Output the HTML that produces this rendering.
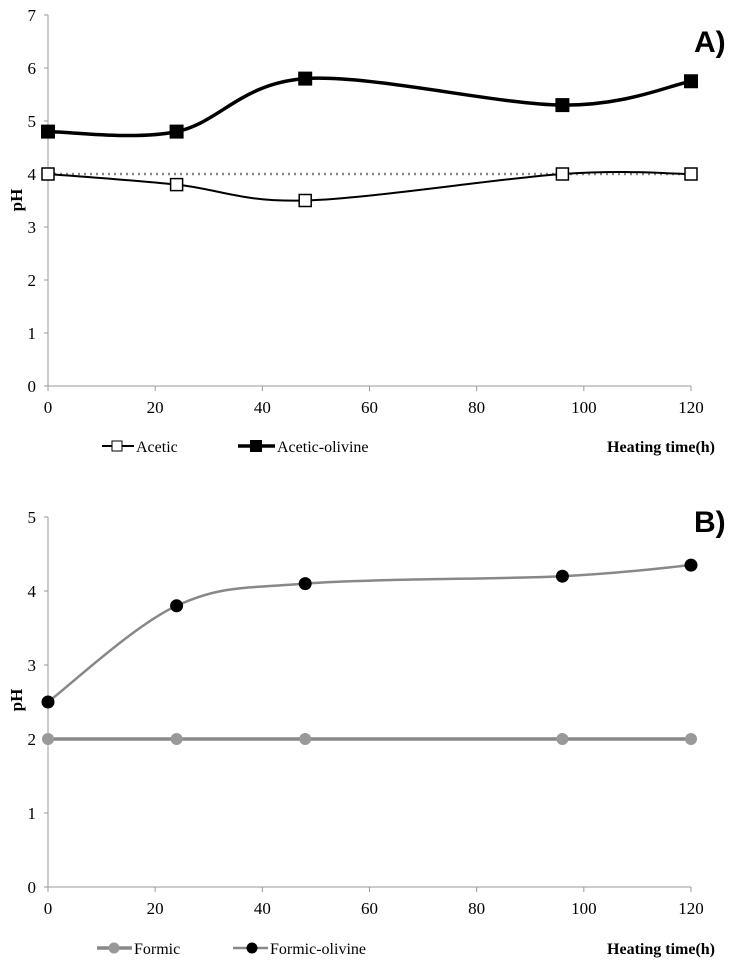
<!DOCTYPE html>
<html><head><meta charset="utf-8"><style>
body{margin:0;background:#fff}
svg text{font-family:"Liberation Serif",serif}
svg text.sans{font-family:"Liberation Sans",sans-serif}
</style></head><body>
<svg id="c" width="736" height="963" viewBox="0 0 736 963" xmlns="http://www.w3.org/2000/svg"></svg>
<script>
const hours=[0,24,48,96,120];
const aceticVals=[4,3.8,3.5,4,4];
const aceticOlivineVals=[4.8,4.8,5.8,5.3,5.75];
const aceticRef=[4,4];
const formicVals=[2,2,2,2,2];
const formicOlivineVals=[2.5,3.8,4.1,4.2,4.35];
const xTicks=[0,20,40,60,80,100,120];
const yTicksA=[0,1,2,3,4,5,6,7];
const yTicksB=[0,1,2,3,4,5];
const NS="http://www.w3.org/2000/svg";
const svg=document.getElementById('c');
function el(t,a,p){const e=document.createElementNS(NS,t);for(const k in a)e.setAttribute(k,a[k]);(p||svg).appendChild(e);return e;}
const X0=48,X1=691;
const sx=v=>X0+(X1-X0)*v/120;
function smooth(pts){let d=`M${pts[0][0]},${pts[0][1]}`;for(let i=0;i<pts.length-1;i++){const p0=pts[i-1]||pts[i],p1=pts[i],p2=pts[i+1],p3=pts[i+2]||p2;const t=6;d+=` C${p1[0]+(p2[0]-p0[0])/t},${p1[1]+(p2[1]-p0[1])/t} ${p2[0]-(p3[0]-p1[0])/t},${p2[1]-(p3[1]-p1[1])/t} ${p2[0]},${p2[1]}`;}return d;}
function axes(g,yTop,yBot,yMax,ticks,sy){
  el('line',{x1:X0,y1:yTop,x2:X0,y2:yBot,stroke:'#999','stroke-width':1},g);
  el('line',{x1:X0,y1:yBot,x2:X1,y2:yBot,stroke:'#999','stroke-width':1},g);
  ticks.forEach(t=>{el('line',{x1:X0-4,y1:sy(t),x2:X0,y2:sy(t),stroke:'#999'},g);
    const tx=el('text',{x:X0-12,y:sy(t)+6,'text-anchor':'end','font-size':17},g);tx.textContent=t;
    });
  xTicks.forEach(t=>{el('line',{x1:sx(t),y1:yBot,x2:sx(t),y2:yBot+5,stroke:'#999'},g);
    const tx=el('text',{x:sx(t),y:yBot+27,'text-anchor':'middle','font-size':17},g);tx.textContent=t;
    });
}
function text(x,y,s,attrs,name){const t=el('text',Object.assign({x:x,y:y},attrs));t.textContent=s;return t;}
// Chart A
const gA=el('g',{});
const syA=v=>386-53*v;
axes(gA,15,386,7,yTicksA,syA);
el('line',{x1:sx(0),y1:syA(aceticRef[0]),x2:sx(120),y2:syA(aceticRef[1]),stroke:'#888','stroke-width':2.5,'stroke-dasharray':'2,4'},gA);
const pA1=hours.map((h,i)=>[sx(h),syA(aceticVals[i])]);
el('path',{d:smooth(pA1),fill:'none',stroke:'#000','stroke-width':2},gA);
const pA2=hours.map((h,i)=>[sx(h),syA(aceticOlivineVals[i])]);
el('path',{d:smooth(pA2),fill:'none',stroke:'#000','stroke-width':3.5},gA);
pA1.forEach(p=>{const r=el('rect',{x:p[0]-6,y:p[1]-6,width:12,height:12,fill:'#fff',stroke:'#000','stroke-width':1.5},gA);});
pA2.forEach(p=>{const r=el('rect',{x:p[0]-7,y:p[1]-7,width:14,height:14,fill:'#000'},gA);});
text(694,52,'A)',{class:'sans','font-weight':'bold','font-size':30},'panel-label-a');
text(22,200,'pH',{'font-weight':'bold','font-size':17,transform:'rotate(-90 22 200)','text-anchor':'middle'},'y-axis-title-a');
// legend A
el('line',{x1:102,y1:446,x2:134,y2:446,stroke:'#000','stroke-width':2});
el('rect',{x:112,y:441,width:10,height:10,fill:'#fff',stroke:'#000'});
text(136,452,'Acetic',{'font-size':16},'legend-acetic');
el('line',{x1:238,y1:446,x2:275,y2:446,stroke:'#000','stroke-width':3.5});
el('rect',{x:250,y:440,width:12,height:12,fill:'#000'});
text(277,452,'Acetic-olivine',{'font-size':16},'legend-acetic-olivine');
text(715,452,'Heating time(h)',{'font-size':16,'font-weight':'bold','text-anchor':'end'},'x-axis-title-a');
// Chart B
const gB=el('g',{});
const syB=v=>887-74*v;
axes(gB,517,887,5,yTicksB,syB);
const pB1=hours.map((h,i)=>[sx(h),syB(formicVals[i])]);
el('path',{d:smooth(pB1),fill:'none',stroke:'#888','stroke-width':3.5},gB);
const pB2=hours.map((h,i)=>[sx(h),syB(formicOlivineVals[i])]);
el('path',{d:smooth(pB2),fill:'none',stroke:'#888','stroke-width':2.5},gB);
pB1.forEach(p=>{const c=el('circle',{cx:p[0],cy:p[1],r:6,fill:'#999'},gB);});
pB2.forEach(p=>{const c=el('circle',{cx:p[0],cy:p[1],r:6.5,fill:'#000'},gB);});
text(694,532,'B)',{class:'sans','font-weight':'bold','font-size':30},'panel-label-b');
text(22,700,'pH',{'font-weight':'bold','font-size':17,transform:'rotate(-90 22 700)','text-anchor':'middle'},'y-axis-title-b');
el('line',{x1:97,y1:948,x2:132,y2:948,stroke:'#888','stroke-width':3.5});
el('circle',{cx:114,cy:948,r:5.5,fill:'#999'});
text(134,954,'Formic',{'font-size':16},'legend-formic');
el('line',{x1:233,y1:948,x2:268,y2:948,stroke:'#888','stroke-width':2.5});
el('circle',{cx:252,cy:948,r:5.5,fill:'#000'});
text(270,954,'Formic-olivine',{'font-size':16},'legend-formic-olivine');
text(715,954,'Heating time(h)',{'font-size':16,'font-weight':'bold','text-anchor':'end'},'x-axis-title-b');
</script>
</body></html>
